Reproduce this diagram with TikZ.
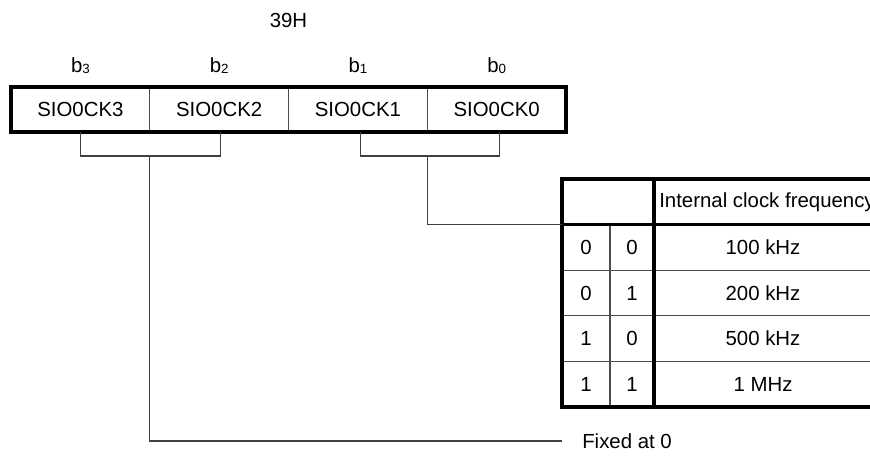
\documentclass[tikz,border=0pt]{standalone}
\usepackage{fontspec}
\setmainfont{Liberation Sans}
\usepackage{tikz}
\usetikzlibrary{calc}
\usetikzlibrary{positioning}
\tikzstyle{regcell}=[draw=black!70, line width=0.8pt, minimum width=104.06pt, minimum height=33.75pt, inner sep=0pt, outer sep=0pt]
\tikzstyle{tcell}=[draw=black!70, line width=0.8pt, minimum height=34.2pt, inner sep=0pt, outer sep=0pt]
\tikzstyle{wire}=[draw=black!75, line width=0.8pt]
\tikzstyle{heavy}=[line width=2.4pt]
\newcommand{\bitno}[1]{b{\fontsize{10}{12}\selectfont\raisebox{-0.6pt}{#1}}}

\begin{document}
\begin{tikzpicture}
        [x=0.75pt,y=-0.75pt,font=\fontsize{15.3}{18}\selectfont]
            \useasboundingbox (0,0) rectangle (870,456);
            % register 39H
            \node [regcell] (ck3) at (80.4,109.5) {SIO0CK3};
            \node [regcell, right=0pt of ck3] (ck2) {SIO0CK2};
            \node [regcell, right=0pt of ck2] (ck1) {SIO0CK1};
            \node [regcell, right=0pt of ck1] (ck0) {SIO0CK0};
            \draw [heavy] (ck3.north west) rectangle (ck0.south east);
            \node (addr) at ($(ck3.north east)!.5!(ck0.north west)+(0,-67)$) {39H};
            \foreach \n in {3,2,1,0}
                \node (bit\n) at ($(ck\n.north)+(0,-21)$) {\bitno{\n}};
            % frequency table
            \node [tcell, minimum width=69pt] (hdr) at (608,201.8) {};
            \node [tcell, minimum width=163.5pt, right=0pt of hdr] (hfreq) {};
            \node [anchor=west, inner sep=0pt] (htext) at ($(hfreq.west)+(5,0)$) {Internal clock frequency};
            \foreach \a/\b/\f [count=\i] in {0/0/100 kHz, 0/1/200 kHz, 1/0/500 kHz, 1/1/1 MHz} {
                \node [tcell, minimum width=36pt] (a\i) at (586,{201.8+45.6*\i}) {\a};
                \node [tcell, minimum width=33pt, right=0pt of a\i] (b\i) {\b};
                \node [tcell, minimum width=163.5pt, right=0pt of b\i] (f\i) {\f};
            }
            \draw [heavy] (hdr.north west) rectangle (f4.south east);
            \draw [heavy] (hdr.south west) -- (hfreq.south east);
            \draw [heavy] (hfreq.north west) -- (f4.south west);
            % brackets and leaders
            \node [anchor=west, inner sep=0pt] (fixed) at (582,441) {Fixed at 0};
            \coordinate (k3) at ($(ck3.south east)+(0,24)$);
            \coordinate (k1) at ($(ck1.south east)+(0,24)$);
            \draw [wire] ($(ck3.south east)+(-69,0)$) -- ++(0,24) -- ++(140,0) -- ++(0,-24);
            \draw [wire] ($(ck1.south east)+(-67,0)$) -- ++(0,24) -- ++(139,0) -- ++(0,-24);
            \draw [wire] (k3) |- ($(fixed.west)+(-20,0)$);
            \draw [wire] (k1) |- (hdr.south west);
        \end{tikzpicture}
\end{document}
